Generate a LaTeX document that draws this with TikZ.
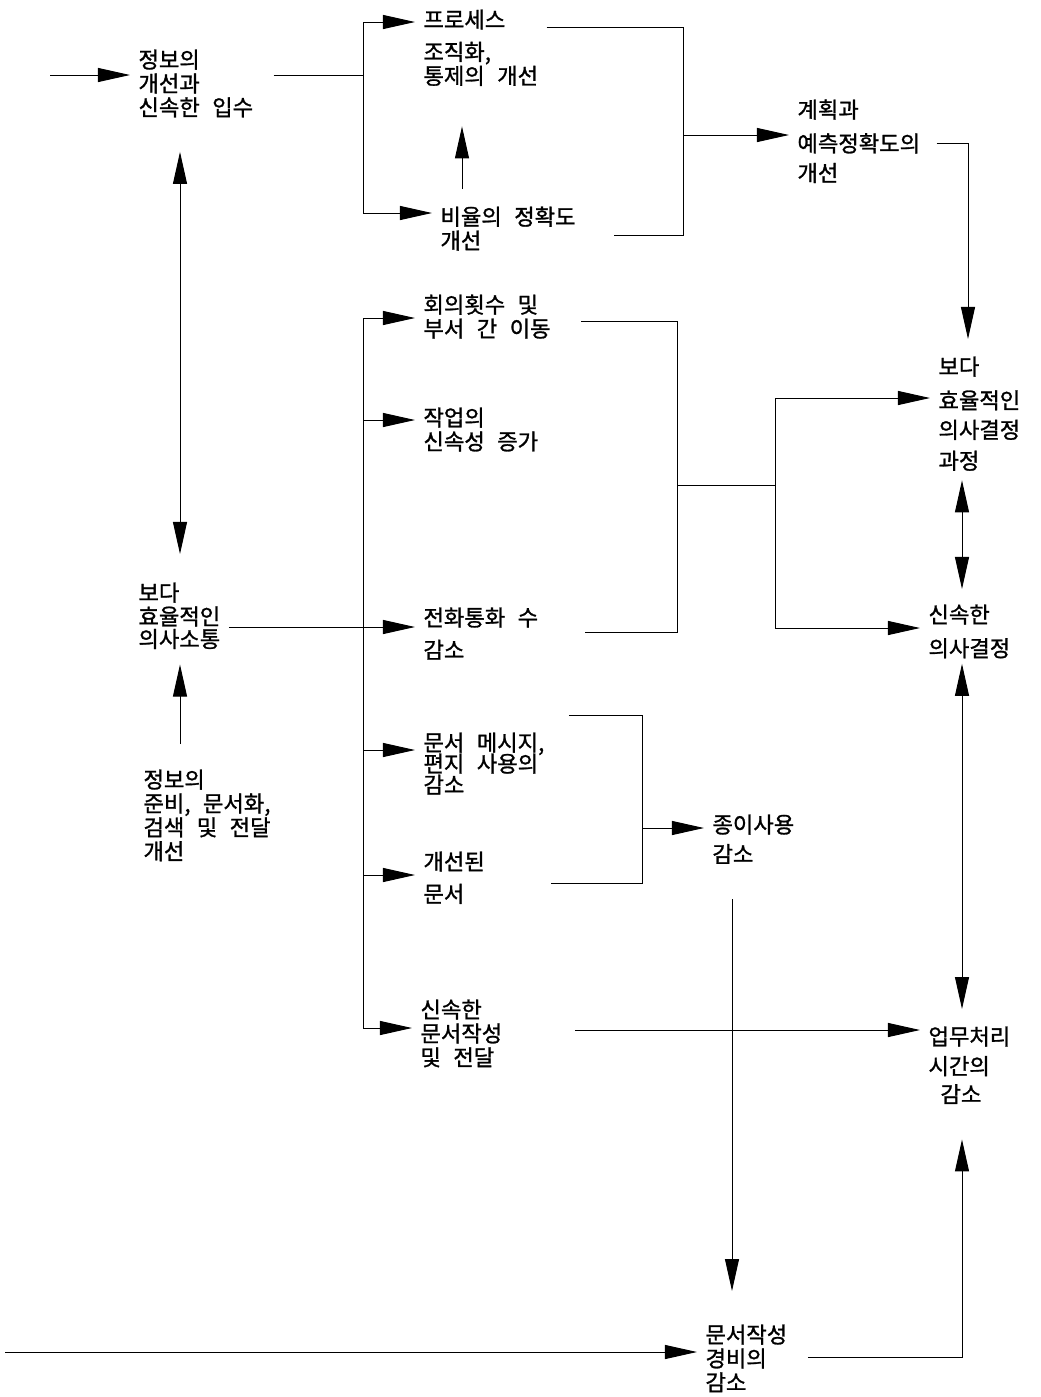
\documentclass[tikz,border=0pt]{standalone}
\usepackage{fontspec}
\newfontfamily\kr{Noto Sans CJK KR}[WordSpace=2.5, FakeBold=1.2]
\usetikzlibrary{arrows.meta}

\begin{document}
\begin{tikzpicture}[x=0.025cm, y=-0.025cm, line width=0.7pt,
	main/.style = {anchor=north west, align=left, inner xsep=0.2cm, inner ysep=0pt, font=\kr\fontsize{15.8pt}{17pt}\selectfont},
	edge/.style = {-{Triangle[length=8mm,width=3.5mm]}},
	both/.style = {{Triangle[length=8mm,width=3.5mm]}-{Triangle[length=8mm,width=3.5mm]}}]

	\useasboundingbox (0,0) rectangle (1041,1397);

	\node[main] (1) at (130,49) {정보의\\개선과\\신속한 입수};
	\node[main] (2) at (415,9) {프로세스\\[6pt]조직화,\\통제의 개선};
	\node[main] (3) at (432,206) {비율의 정확도\\개선};
	\node[main] (4) at (789,99) {계획과\\[7pt]예측정확도의\\[4pt]개선};
	\node[main] (5) at (930,356) {보다\\[7pt]효율적인\\[4pt]의사결정\\[5pt]과정};
	\node[main] (6) at (920,604) {신속한\\[7pt]의사결정};
	\node[main] (7) at (920,1026) {업무처리\\[4pt]시간의\\[3pt]\hspace{0.3cm}감소};
	\node[main] (8) at (697,1324) {문서작성\\경비의\\감소};
	\node[main] (9) at (704,814) {종이사용\\[4pt]감소};
	\node[main] (10) at (415,294) {회의횟수 및\\부서 간 이동};
	\node[main] (11) at (415,407) {작업의\\신속성 증가};
	\node[main] (12) at (415,607) {전화통화 수\\[6pt]감소};
	\node[main] (13) at (415,732) {문서 메시지,\\[-2pt]편지 사용의\\[-2pt]감소};
	\node[main] (14) at (415,851) {개선된\\[6pt]문서};
	\node[main] (15) at (412,999) {신속한\\문서작성\\및 전달};
	\node[main] (16) at (130,582) {보다\\효율적인\\[-1pt]의사소통};
	\node[main] (17) at (135,769) {정보의\\준비, 문서화,\\검색 및 전달\\개선};

	\coordinate (in) at (50,75);
	\coordinate (in2) at (5,1352);
	\coordinate (a1) at (180,0);
	\coordinate (b1) at (363,22);
	\coordinate (b2) at (363,213);
	\coordinate (b3) at (363,75);
	\coordinate (v1) at (462,0);
	\coordinate (c1) at (683,27);
	\coordinate (c2) at (683,235);
	\coordinate (c3) at (683,135);
	\coordinate (d1) at (968,143);
	\coordinate (e1) at (962,0);
	\coordinate (m1) at (363,318);
	\coordinate (m2) at (363,420);
	\coordinate (m3) at (363,627);
	\coordinate (m4) at (363,750);
	\coordinate (m5) at (363,875);
	\coordinate (m6) at (363,1028);
	\coordinate (r1) at (677,321);
	\coordinate (r2) at (677,632);
	\coordinate (r3) at (677,485);
	\coordinate (s0) at (775,485);
	\coordinate (s1) at (775,398);
	\coordinate (s2) at (775,628);
	\coordinate (p1) at (642,715);
	\coordinate (p2) at (642,883);
	\coordinate (p3) at (642,828);
	\coordinate (p4) at (732,0);
	\coordinate (o1) at (0,1030);
	\coordinate (h1) at (962,1357);

	% upper part
	\draw[edge] (in) -- (in -| 1.west);
	\draw[shorten <=0.3cm] (1.east |- b3) -- (b3);
	\draw (b1) -- (b2);
	\draw[edge] (b1) -- (b1 -| 2.west);
	\draw[edge] (b2) -- (b2 -| 3.west);
	\draw[edge, shorten <=0.425cm, shorten >=1cm] (3.north -| v1) -- (2.south -| v1);
	\draw[shorten >=0.75cm] (2.east |- c1) -- (c1) -- (c2) -- (c2 -| 3.east);
	\draw[edge] (c3) -- (c3 -| 4.west);
	\draw[edge, shorten <=0.2cm, shorten >=0.425cm] (4.east |- d1) -- (d1) -- (d1 |- 5.north);
	\draw[both, shorten <=0.85cm, shorten >=0.7cm] (1.south -| a1) -- (16.north -| a1);
	\draw[edge, shorten <=0.625cm, shorten >=0.375cm] (17.north -| a1) -- (16.south -| a1);

	% middle part
	\draw (m1) -- (m6);
	\draw (16.east |- m3) -- (m3);
	\foreach \p/\n in {m1/10, m2/11, m3/12, m4/13, m5/14, m6/15}
		\draw[edge] (\p) -- (\p -| \n.west);
	\draw[shorten <=0.55cm] (10.east |- r1) -- (r1) -- (r2) -- ([xshift=0.95cm]r2 -| 12.east);
	\draw (r3) -- (s0);
	\draw (s1) -- (s2);
	\draw[edge] (s1) -- (s1 -| 5.west);
	\draw[edge] (s2) -- (s2 -| 6.west);
	\draw[both, shorten <=0.225cm, shorten >=0.375cm] (5.south -| e1) -- (6.north -| e1);
	\draw[both, shorten <=0.125cm, shorten >=0.425cm] (6.south -| e1) -- (7.north -| e1);

	% lower part
	\draw[shorten <=0.4cm] (13.east |- p1) -- (p1) -- (p2) -- ([xshift=1.45cm]p2 -| 14.east);
	\draw[edge] (p3) -- (p3 -| 9.west);
	\draw[edge, shorten <=0.875cm, shorten >=0.825cm] (9.south -| p4) -- (8.north -| p4);
	\draw[edge, shorten <=1.6cm] (15.east |- o1) -- (o1 -| 7.west);
	\draw[edge] (in2) -- (in2 -| 8.west);
	\draw[edge, shorten <=0.3cm, shorten >=0.875cm] (8.east |- h1) -- (h1) -- (h1 |- 7.south);

\end{tikzpicture}
\end{document}
